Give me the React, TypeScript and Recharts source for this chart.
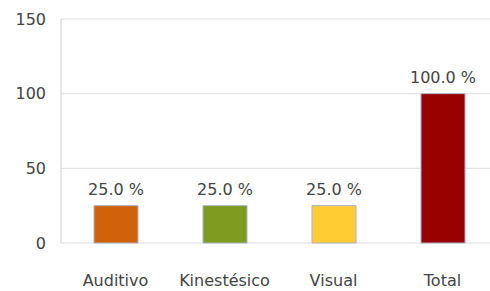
import { BarChart, Bar, XAxis, YAxis, CartesianGrid, Cell, LabelList } from "recharts";

const categories = ["Auditivo", "Kinestésico", "Visual", "Total"];
const values = [25, 25, 25, 100];
const colors = ["#D2620A", "#7F9B1E", "#FFCC33", "#990000"];
const yTicks = [0, 50, 100, 150];

const data = categories.map((name, i) => ({ name, value: values[i] }));

const font = { fill: "#444", fontSize: 16, fontFamily: "DejaVu Sans" };

// label above each bar, drawn by hand so it doesn't wrap to bar width
const renderLabel = (props: any) => {
  const { x, y, width, value } = props;
  return (
    <text
      x={Number(x) + Number(width) / 2}
      y={Number(y) - 11}
      textAnchor="middle"
      {...font}
    >
      {`${Number(value).toFixed(1)} %`}
    </text>
  );
};

export default function App() {
  return (
    <div style={{ position: "absolute", left: 0, top: 0, width: 490, height: 291, overflow: "hidden", background: "#fff" }}>
      <BarChart width={500} height={291} data={data} margin={{ top: 19, right: 3, left: 0, bottom: 0 }}>
        <CartesianGrid vertical={false} stroke="#dedede" />
        <XAxis
          dataKey="name"
          axisLine={false}
          tickLine={false}
          tickSize={0}
          tickMargin={32}
          height={48}
          tick={font}
          interval={0}
        />
        <YAxis
          domain={[0, 150]}
          ticks={yTicks}
          width={61}
          axisLine={{ stroke: "#cfcfcf" }}
          tickLine={false}
          tickSize={0}
          tickMargin={15}
          tick={font}
        />
        <Bar dataKey="value" barSize={44} isAnimationActive={false} stroke="#a9b4c6" strokeWidth={1}>
          {data.map((d, i) => (
            <Cell key={d.name} fill={colors[i]} />
          ))}
          <LabelList dataKey="value" content={renderLabel} />
        </Bar>
      </BarChart>
    </div>
  );
}
